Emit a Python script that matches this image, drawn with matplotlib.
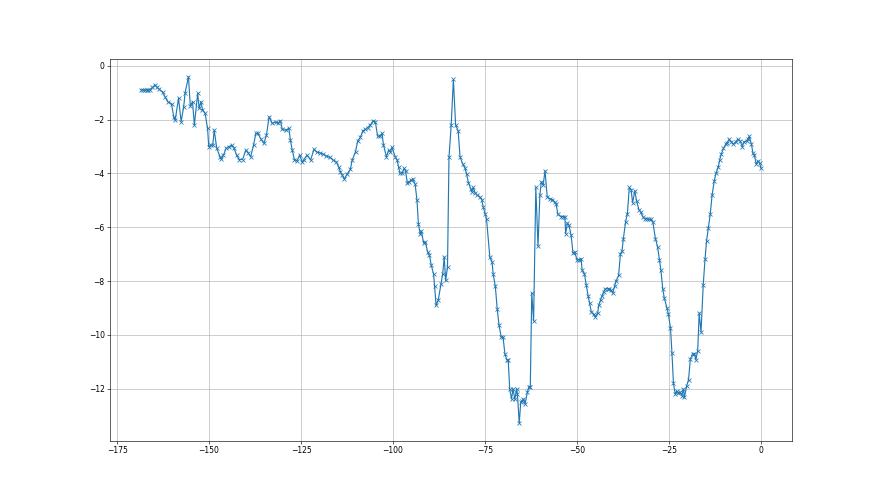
import matplotlib
matplotlib.use("Agg")
import matplotlib.pyplot as plt

# positions of the samples
x = [-168.5, -168.0, -167.5, -167.0, -166.5, -166.0, -165.4, -164.7, -164.1, -163.5,
     -162.6, -161.9, -161.2, -160.2, -159.6, -159.2, -158.3, -157.6, -156.9, -156.5,
     -155.6, -155.1, -154.5, -154.0, -153.1, -152.7, -152.2, -151.8, -151.1, -150.4,
     -150.1, -149.5, -149.0, -148.6, -147.9, -147.0, -146.7, -146.1, -145.4, -144.5,
     -143.9, -143.2, -142.5, -141.8, -140.9, -140.0, -139.4, -138.7, -137.9, -137.3,
     -136.7, -136.0, -135.1, -134.4, -133.7, -132.8, -131.9, -131.3, -130.6, -130.1,
     -129.2, -128.3, -127.9, -127.4, -126.8, -126.1, -125.4, -124.7, -124.2, -123.4,
     -122.4, -121.5, -120.8, -119.9, -119.0, -118.1, -117.2, -116.3, -115.4, -114.8,
     -114.3, -113.8, -113.2, -112.5, -111.6, -111.1, -110.2, -109.6, -108.9, -108.2,
     -107.5, -106.9, -106.2, -105.4, -104.8, -104.2, -103.5, -103.0, -102.6, -101.8,
     -101.2, -100.7, -100.3, -99.4, -98.9, -98.5, -98.1, -97.5, -97.0, -96.6,
     -96.1, -95.6, -95.1, -94.6, -94.0, -93.5, -93.1, -92.6, -92.3, -91.7,
     -91.2, -90.6, -90.1, -89.6, -89.0, -88.7, -88.3, -87.7, -87.0, -86.5,
     -86.1, -85.7, -85.2, -84.8, -84.2, -83.6, -83.0, -82.3, -81.8, -81.1,
     -80.4, -80.0, -79.5, -78.9, -78.6, -78.2, -77.7, -77.1, -76.4, -75.9,
     -75.5, -75.0, -74.6, -73.7, -73.1, -72.8, -72.2, -71.7, -71.2, -70.6,
     -70.1, -69.6, -69.1, -68.7, -68.3, -67.8, -67.4, -66.9, -66.4, -66.2,
     -65.7, -65.3, -64.9, -64.6, -64.1, -63.5, -63.1, -62.7, -62.3, -61.8,
     -61.2, -60.6, -60.1, -59.7, -59.2, -58.7, -58.1, -57.4, -56.7, -56.1,
     -55.7, -55.2, -54.4, -53.8, -53.3, -53.1, -52.6, -52.2, -51.6, -51.1,
     -50.6, -50.0, -49.4, -48.9, -48.6, -48.0, -47.5, -47.0, -46.6, -46.1,
     -45.5, -45.0, -44.4, -44.1, -43.6, -43.2, -42.8, -42.3, -41.7, -41.2,
     -40.7, -40.3, -39.8, -39.4, -38.7, -38.2, -37.8, -37.4, -36.8, -36.3,
     -35.8, -35.3, -34.9, -34.3, -33.8, -33.2, -32.7, -32.1, -31.6, -31.0,
     -30.5, -29.9, -29.4, -28.7, -28.1, -27.6, -27.2, -26.7, -26.3, -25.6,
     -25.2, -24.6, -24.2, -23.8, -23.3, -22.9, -22.5, -22.0, -21.5, -21.1,
     -20.8, -20.2, -19.7, -19.2, -18.6, -18.1, -17.7, -17.2, -16.8, -16.3,
     -15.7, -15.2, -14.8, -14.3, -13.8, -13.3, -12.7, -12.2, -11.6, -11.2,
     -10.8, -10.2, -9.6, -9.2, -8.7, -8.1, -7.5, -6.9, -6.3, -5.7,
     -5.1, -4.6, -3.9, -3.4, -3.2, -2.6, -2.2, -1.8, -1.3, -0.8,
     -0.4, 0.0]

y = [-0.89, -0.89, -0.90, -0.89, -0.90, -0.88, -0.80, -0.71, -0.80, -0.87,
     -0.98, -1.17, -1.33, -1.42, -1.89, -2.01, -1.20, -2.07, -1.52, -0.99,
     -0.40, -1.49, -1.33, -2.20, -1.02, -1.58, -1.33, -1.62, -1.76, -2.32,
     -3.00, -2.94, -2.94, -2.39, -3.07, -3.38, -3.47, -3.32, -3.07, -3.00,
     -2.94, -3.07, -3.32, -3.48, -3.48, -3.13, -3.23, -3.38, -2.94, -2.51,
     -2.51, -2.70, -2.88, -2.57, -1.89, -2.14, -2.08, -2.14, -2.04, -2.36,
     -2.39, -2.32, -2.76, -3.13, -3.48, -3.53, -3.32, -3.57, -3.48, -3.32,
     -3.50, -3.10, -3.20, -3.23, -3.28, -3.35, -3.40, -3.50, -3.57, -3.75,
     -3.94, -4.06, -4.21, -4.02, -3.85, -3.50, -3.19, -2.78, -2.66, -2.41,
     -2.36, -2.29, -2.20, -2.04, -2.08, -2.61, -2.61, -2.51, -2.94, -3.38,
     -3.13, -3.19, -3.03, -3.38, -3.50, -3.75, -4.00, -3.98, -3.81, -3.90,
     -4.37, -4.31, -4.24, -4.22, -4.40, -4.99, -5.89, -6.26, -6.14, -6.58,
     -6.55, -6.92, -7.05, -7.42, -7.73, -8.20, -8.91, -8.70, -8.12, -7.73,
     -7.11, -7.98, -7.48, -3.40, -2.20, -0.50, -2.20, -2.41, -3.38, -3.63,
     -3.81, -4.03, -4.35, -4.56, -4.68, -4.52, -4.72, -4.81, -4.87, -4.97,
     -5.24, -5.49, -5.68, -7.11, -7.29, -7.73, -8.20, -9.03, -9.63, -10.09,
     -10.09, -10.71, -10.93, -10.93, -12.01, -12.39, -12.01, -12.40, -12.01, -12.20,
     -13.29, -12.51, -12.45, -12.39, -12.57, -12.14, -11.95, -11.93, -8.45, -9.49,
     -4.52, -6.71, -4.81, -4.31, -4.43, -3.90, -4.87, -4.94, -4.97, -5.06,
     -5.12, -5.52, -5.60, -5.60, -5.60, -6.24, -5.84, -5.93, -6.30, -6.96,
     -6.93, -7.21, -7.20, -7.17, -7.60, -7.73, -8.13, -8.54, -8.82, -9.16,
     -9.24, -9.32, -9.20, -8.91, -8.70, -8.55, -8.41, -8.29, -8.29, -8.29,
     -8.35, -8.45, -8.20, -8.00, -7.79, -6.98, -6.90, -6.42, -5.80, -5.49,
     -4.52, -4.60, -5.09, -4.65, -5.02, -5.34, -5.43, -5.61, -5.68, -5.68,
     -5.71, -5.71, -5.80, -6.42, -6.73, -7.21, -7.60, -8.29, -8.62, -8.99,
     -9.22, -9.74, -10.68, -11.80, -12.20, -12.10, -12.18, -12.14, -12.26, -12.02,
     -12.32, -11.90, -11.68, -10.90, -10.71, -10.71, -10.93, -10.59, -9.19, -9.90,
     -8.13, -7.17, -6.51, -6.01, -5.52, -4.81, -4.27, -3.98, -3.75, -3.48,
     -3.28, -3.07, -2.91, -2.86, -2.73, -2.82, -2.91, -2.82, -2.73, -2.78,
     -3.00, -2.82, -2.78, -2.70, -2.61, -2.91, -3.23, -3.32, -3.65, -3.53,
     -3.60, -3.80]

fig, ax = plt.subplots(figsize=(16, 9), dpi=55)
ax.plot(x, y, marker="x")
ax.grid(True)

fig.savefig("out.png", dpi=55)
